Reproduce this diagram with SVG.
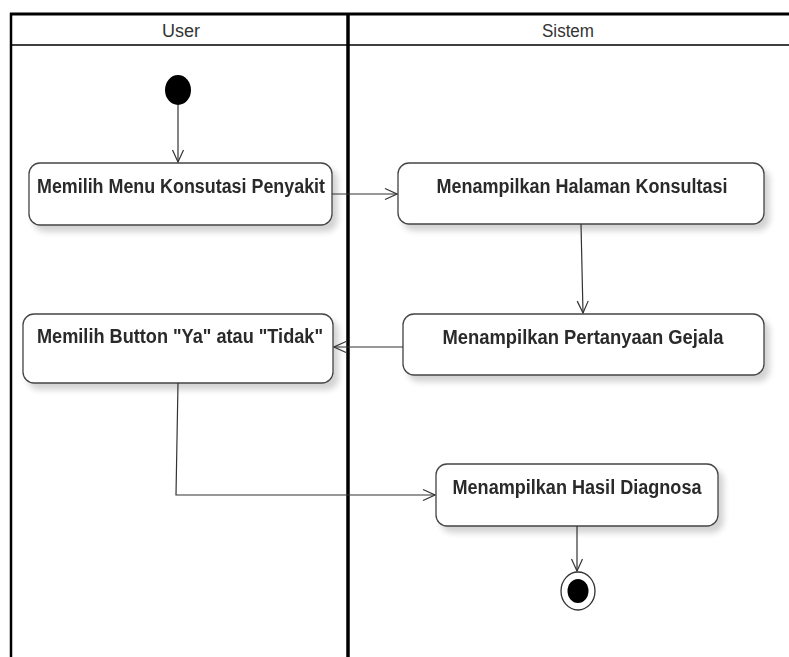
<svg xmlns="http://www.w3.org/2000/svg" width="789" height="657" viewBox="0 0 789 657">
  <style>
    .lane { stroke: #000; fill: none; }
    .hdr { font-family: "Liberation Sans", Arial, sans-serif; font-size: 18px; fill: #333; text-anchor: middle; }
    .act rect { fill: #fff; stroke: #444; stroke-width: 1.3; }
    .lbl { font-family: "Liberation Sans", Arial, sans-serif; font-size: 20px; font-weight: bold; fill: #2a2a2a; text-anchor: middle; }
    .flow { stroke: #333; stroke-width: 1.2; fill: none; marker-end: url(#open); }
  </style>
  <defs>
    <marker id="open" viewBox="0 0 14 14" refX="13" refY="7" markerWidth="14" markerHeight="14" markerUnits="userSpaceOnUse" orient="auto">
      <path d="M1,1.5 L13,7 L1,12.5" fill="none" stroke="#333" stroke-width="1.2"/>
    </marker>
    <filter id="shadow" x="-10%" y="-20%" width="130%" height="160%">
      <feGaussianBlur in="SourceAlpha" stdDeviation="3"/>
      <feOffset dx="5" dy="6" result="b"/>
      <feComponentTransfer><feFuncA type="linear" slope="0.18"/></feComponentTransfer>
      <feMerge><feMergeNode/><feMergeNode in="SourceGraphic"/></feMerge>
    </filter>
  </defs>
  <rect width="789" height="657" fill="#fff"/>

  <!-- swimlanes -->
  <g id="lanes">
    <line class="lane" x1="10" y1="14" x2="789" y2="14" stroke-width="3"/>
    <line class="lane" x1="10" y1="45" x2="789" y2="45" stroke-width="1.5"/>
    <line class="lane" x1="11" y1="13" x2="11" y2="657" stroke-width="2.5"/>
    <line class="lane" x1="348" y1="13" x2="348" y2="657" stroke-width="3.5"/>
    <text class="hdr" x="181" y="37" textLength="38" lengthAdjust="spacingAndGlyphs">User</text>
    <text class="hdr" x="568" y="37" textLength="52" lengthAdjust="spacingAndGlyphs">Sistem</text>
  </g>

  <!-- start -->
  <g id="start">
    <ellipse cx="178" cy="90" rx="13" ry="15" fill="#000"/>
  </g>

  <g id="a1" class="act" filter="url(#shadow)">
    <rect x="29" y="163" width="303" height="62" rx="11"/>
    <text class="lbl" x="181" y="193" textLength="288" lengthAdjust="spacingAndGlyphs">Memilih Menu Konsutasi Penyakit</text>
  </g>

  <g id="a2" class="act" filter="url(#shadow)">
    <rect x="398" y="163" width="366" height="61" rx="11"/>
    <text class="lbl" x="582" y="193" textLength="291" lengthAdjust="spacingAndGlyphs">Menampilkan Halaman Konsultasi</text>
  </g>

  <g id="a3" class="act" filter="url(#shadow)">
    <rect x="403" y="314" width="361" height="61" rx="11"/>
    <text class="lbl" x="583" y="344" textLength="281" lengthAdjust="spacingAndGlyphs">Menampilkan Pertanyaan Gejala</text>
  </g>

  <g id="a4" class="act" filter="url(#shadow)">
    <rect x="23" y="314" width="310" height="69" rx="11"/>
    <text class="lbl" x="180" y="343" textLength="286" lengthAdjust="spacingAndGlyphs">Memilih Button "Ya" atau "Tidak"</text>
  </g>

  <g id="a5" class="act" filter="url(#shadow)">
    <rect x="436" y="464" width="282" height="62" rx="11"/>
    <text class="lbl" x="577" y="494" textLength="249" lengthAdjust="spacingAndGlyphs">Menampilkan Hasil Diagnosa</text>
  </g>

  <!-- end -->
  <g id="end">
    <ellipse cx="578" cy="591" rx="17" ry="19" fill="#fff" stroke="#333" stroke-width="1.3"/>
    <ellipse cx="578" cy="591" rx="10.5" ry="12" fill="#000"/>
  </g>

  <!-- control flows -->
  <g id="connectors">
    <path class="flow" d="M178,105 L178,162"/>
    <path class="flow" d="M332,194 L397,194"/>
    <path class="flow" d="M581,224 L583,313"/>
    <path class="flow" d="M403,347 L334,347"/>
    <path class="flow" d="M178,383 L176,495 L435,495"/>
    <path class="flow" d="M577,526 L577,571"/>
  </g>
</svg>
